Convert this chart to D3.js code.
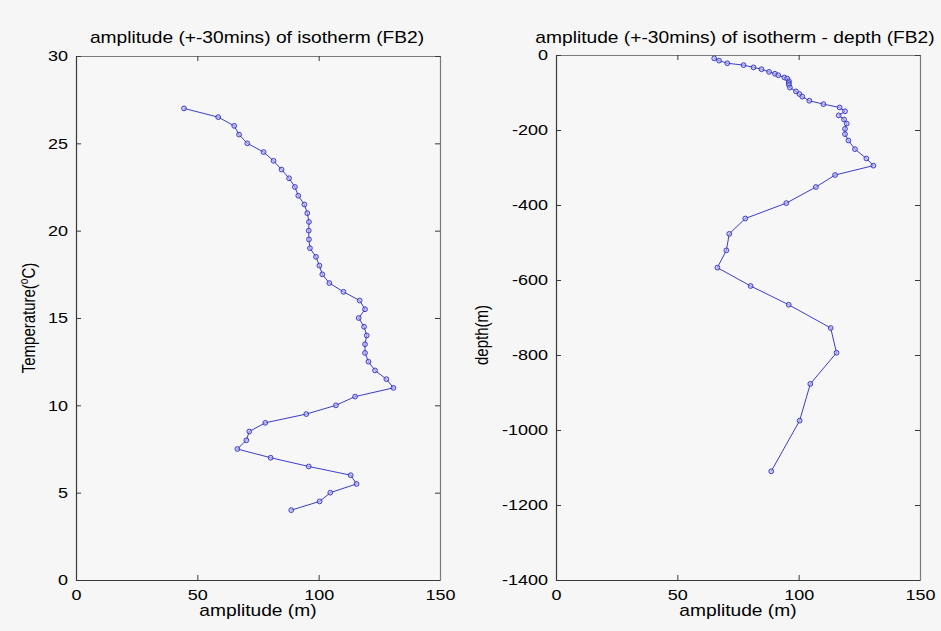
<!DOCTYPE html>
<html>
<head>
<meta charset="utf-8">
<script src="https://cdn.jsdelivr.net/npm/d3@7"></script>
<style>
  html, body { margin: 0; padding: 0; background: #ffffff; }
  svg { display: block; }
  text { font-family: "Liberation Sans", Arial, Helvetica, sans-serif; fill: #000; }
</style>
</head>
<body>
<svg id="chart" width="941" height="631"></svg>
<script>
// ---------------- DATA ----------------
const temperature = [27, 26.5, 26, 25.5, 25, 24.5, 24, 23.5, 23, 22.5, 22, 21.5, 21, 20.5, 20, 19.5, 19,
  18.5, 18, 17.5, 17, 16.5, 16, 15.5, 15, 14.5, 14, 13.5, 13, 12.5, 12, 11.5, 11, 10.5, 10, 9.5, 9,
  8.5, 8, 7.5, 7, 6.5, 6, 5.5, 5, 4.5, 4];
const amplitude = [44.5, 58.6, 65.2, 67.2, 70.6, 77.3, 81.4, 84.7, 87.8, 90.2, 91.6, 94.1, 95.3, 96.0,
  95.9, 96.0, 96.4, 98.9, 100.3, 101.5, 104.4, 110.2, 116.9, 119.1, 116.5, 118.7, 119.8, 119.1, 119.1,
  120.5, 123.2, 127.9, 130.8, 115.0, 107.1, 94.9, 78.0, 71.4, 70.2, 66.5, 80.2, 95.9, 113.2, 115.6,
  104.8, 100.4, 88.7];
const depth = [null, null, -9, -15, -22, -27, -33, -38, -45, -50, -54, -60, -63, -70, -75, -80, -87,
  -97, -104, -111, -122, -131, -140, -150, -161, -172, -183, -197, -211, -228, -251, -276, -295, -320,
  -352, -395, -436, -477, -521, -567, -616, -666, -728, -794, -877, -975, -1110];

const xTicks = [0, 50, 100, 150];
const tempTicks = [0, 5, 10, 15, 20, 25, 30];
const depthTicks = [0, -200, -400, -600, -800, -1000, -1200, -1400];

const titleLeft = "amplitude (+-30mins) of isotherm (FB2)";
const titleRight = "amplitude (+-30mins) of isotherm - depth (FB2)";
const xLabel = "amplitude (m)";

// ---------------- DRAW ----------------
const svg = d3.select("#chart");
const SX = 1.2; // horizontal stretch of the glyphs in the reference
const fmt = d => String(d);

svg.append("rect").attr("x", 0).attr("y", 0).attr("width", 941).attr("height", 631).attr("fill", "#f6f6f6");

function stretchText(sel, fontSize) {
  sel.attr("font-size", fontSize)
     .attr("fill", "#000")
     .attr("font-family", "'Liberation Sans', Arial, sans-serif");
}

function panel(cfg) {
  const x = d3.scaleLinear().domain([0, 150]).range([cfg.left, cfg.right]);
  const y = d3.scaleLinear().domain(cfg.yDomain).range([cfg.bottom, cfg.top]);
  const g = svg.append("g");

  g.append("rect")
    .attr("x", cfg.left).attr("y", cfg.top)
    .attr("width", cfg.right - cfg.left).attr("height", cfg.bottom - cfg.top)
    .attr("fill", "#f7f7f7").attr("stroke", "none");

  const axB = g.append("g").attr("transform", `translate(0,${cfg.bottom})`)
    .call(d3.axisBottom(x).tickValues(xTicks).tickFormat(fmt).tickSize(-5).tickSizeOuter(0).tickPadding(9));
  const axT = g.append("g").attr("transform", `translate(0,${cfg.top})`)
    .call(d3.axisTop(x).tickValues(xTicks).tickSize(-5).tickSizeOuter(0).tickFormat(""));
  const axL = g.append("g").attr("transform", `translate(${cfg.left},0)`)
    .call(d3.axisLeft(y).tickValues(cfg.yTicks).tickFormat(fmt).tickSize(-5).tickSizeOuter(0).tickPadding(8));
  const axR = g.append("g").attr("transform", `translate(${cfg.right},0)`)
    .call(d3.axisRight(y).tickValues(cfg.yTicks).tickSize(-5).tickSizeOuter(0).tickFormat(""));

  [axB, axL].forEach(a => {
    a.select(".domain").attr("stroke", "#3a3a3a").attr("stroke-width", 1.2);
    a.selectAll(".tick line").attr("stroke", "#3a3a3a");
  });
  [axT, axR].forEach(a => {
    a.select(".domain").attr("stroke", "#7a7a7a").attr("stroke-width", 1.2);
    a.selectAll(".tick line").attr("stroke", "#3a3a3a");
  });

  axB.selectAll(".tick text").call(stretchText, 15)
    .attr("transform", `scale(${SX},1)`);
  axL.selectAll(".tick text").call(stretchText, 15)
    .attr("x", -8 / SX)
    .attr("transform", `scale(${SX},1)`);

  const tt = g.append("text")
    .attr("text-anchor", "middle")
    .attr("transform", `translate(${cfg.titleX},43) scale(${SX},1)`)
    .text(cfg.title);
  stretchText(tt, 16);

  const xl = g.append("text")
    .attr("text-anchor", "middle")
    .attr("transform", `translate(${(cfg.left + cfg.right) / 2},616) scale(${SX},1)`)
    .text(xLabel);
  stretchText(xl, 16);

  const yl = g.append("text")
    .attr("text-anchor", "middle")
    .attr("transform", `translate(${cfg.yLabelX},${cfg.yLabelY}) scale(${SX},1) rotate(-90)`);
  stretchText(yl, 15);
  cfg.yLabel(yl);

  const pts = cfg.points;
  const line = d3.line().x(d => x(d[0])).y(d => y(d[1]));
  g.append("path").datum(pts)
    .attr("d", line)
    .attr("fill", "none")
    .attr("stroke", "#3c3cd2")
    .attr("stroke-width", 1);
  g.selectAll("circle.m").data(pts).enter().append("circle")
    .attr("class", "m")
    .attr("cx", d => x(d[0])).attr("cy", d => y(d[1]))
    .attr("r", 2.4)
    .attr("fill", "#b4b4ee")
    .attr("fill-opacity", 0.6)
    .attr("stroke", "#2f2fc8")
    .attr("stroke-width", 0.9);
}

panel({
  left: 76, right: 440, top: 56, bottom: 580,
  yDomain: [0, 30], yTicks: tempTicks,
  title: titleLeft, titleX: 257,
  yLabelX: 35, yLabelY: 318,
  yLabel: t => {
    t.append("tspan").text("Temperature(");
    t.append("tspan").attr("font-size", 10).attr("dy", -6).text("o");
    t.append("tspan").attr("dy", 6).text("C)");
  },
  points: amplitude.map((a, i) => [a, temperature[i]])
});

panel({
  left: 556, right: 920, top: 55, bottom: 580,
  yDomain: [-1400, 0], yTicks: depthTicks,
  title: titleRight, titleX: 735,
  yLabelX: 488, yLabelY: 335,
  yLabel: t => { t.text("depth(m)"); },
  points: amplitude.map((a, i) => [a, depth[i]]).filter(d => d[1] !== null)
});
</script>
</body>
</html>
